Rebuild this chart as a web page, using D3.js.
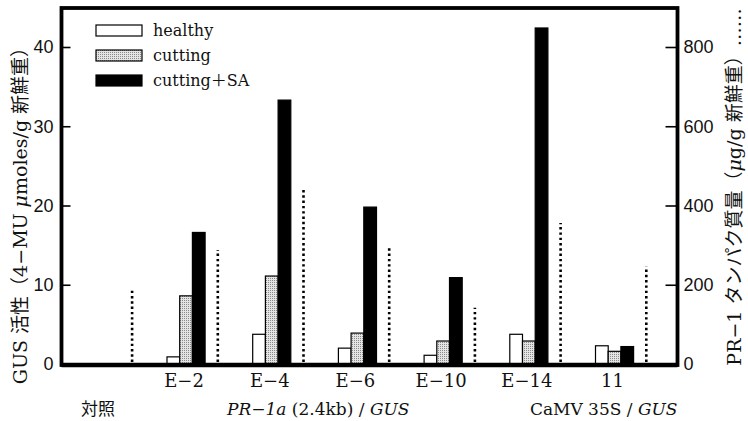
<!DOCTYPE html>
<html>
<head>
<meta charset="utf-8">
<script src="https://cdn.jsdelivr.net/npm/d3@7"></script>
<style>
  body { margin: 0; background: #fff; }
  svg { display: block; }
  .tick text { font-family: 'Liberation Sans Narrow', 'Liberation Sans', Arial, sans-serif; font-size: 18px; fill: #111; }
  .serif { font-family: 'DejaVu Serif', 'Noto Sans CJK JP', serif; fill: #111; }
</style>
</head>
<body>
<div id="chart"></div>
<script>
// data
const categories = ['対照', 'E−2', 'E−4', 'E−6', 'E−10', 'E−14', '11'];
const tickLabels = ['', 'E−2', 'E−4', 'E−6', 'E−10', 'E−14', '11'];
const healthy = [0, 0.9, 3.75, 2.0, 1.1, 3.75, 2.3];
const cutting = [0, 8.6, 11.1, 3.9, 2.9, 2.9, 1.6];
const cuttingSA = [0, 16.6, 33.3, 19.8, 10.9, 42.4, 2.2];
const pr1 = [188, 288, 444, 293, 142, 356, 247];   // right axis, µg/g
const leftTicks = [0, 10, 20, 30, 40];
const rightTicks = [0, 200, 400, 600, 800];
const seriesNames = ['healthy', 'cutting', 'cutting＋SA'];

const width = 748, height = 421;
const plotLeft = 61.5, plotRight = 677.5, plotTop = 8, plotBottom = 365;

const svg = d3.select('#chart').append('svg')
    .attr('width', width)
    .attr('height', height);

const defs = svg.append('defs');
const pat = defs.append('pattern')
    .attr('id', 'dots')
    .attr('width', 2).attr('height', 2)
    .attr('patternUnits', 'userSpaceOnUse');
pat.append('rect').attr('width', 2).attr('height', 2).attr('fill', '#e4e4e4');
pat.append('rect').attr('width', 1).attr('height', 1).attr('fill', '#8a8a8a');

const fills = ['#fff', 'url(#dots)', '#000'];

const x = d3.scaleBand()
    .domain(categories)
    .range([81.3, 81.3 + 85.7 * categories.length]);

const sub = d3.scaleBand()
    .domain(['healthy', 'cutting', 'sa', 'gap', 'pr1'])
    .range([0, 63.5]);

const y = d3.scaleLinear().domain([0, 40]).range([364, 47]);
const yR = d3.scaleLinear().domain([0, 800]).range([364, 47]);

// bars
const seriesData = [healthy, cutting, cuttingSA];
const subKeys = ['healthy', 'cutting', 'sa'];
seriesData.forEach((vals, si) => {
    svg.append('g')
        .selectAll('rect')
        .data(vals)
        .enter().append('rect')
        .attr('x', (d, i) => x(categories[i]) + sub(subKeys[si]))
        .attr('y', d => y(d))
        .attr('width', sub.bandwidth())
        .attr('height', d => y(0) - y(d))
        .attr('fill', fills[si])
        .attr('stroke', '#000')
        .attr('stroke-width', d => d > 0 ? 1.2 : 0);
});

// PR-1 protein as dotted lines
svg.append('g')
    .selectAll('line')
    .data(pr1)
    .enter().append('line')
    .attr('x1', (d, i) => x(categories[i]) + sub('pr1'))
    .attr('x2', (d, i) => x(categories[i]) + sub('pr1'))
    .attr('y1', yR(0) - 2)
    .attr('y2', d => yR(d))
    .attr('stroke', '#000')
    .attr('stroke-width', 2.6)
    .attr('stroke-dasharray', '2.4,2.9');

// axes
const axL = svg.append('g')
    .attr('transform', `translate(${plotLeft},0)`)
    .call(d3.axisLeft(y).tickValues(leftTicks).tickSize(-9).tickPadding(8));
const axR = svg.append('g')
    .attr('transform', `translate(${plotRight},0)`)
    .call(d3.axisRight(yR).tickValues(rightTicks).tickSize(-12).tickPadding(6));
[axL, axR].forEach(a => {
    a.select('.domain').remove();
    a.selectAll('.tick line').attr('stroke', '#000').attr('stroke-width', 1.6);
});

// frame
svg.append('rect')
    .attr('x', plotLeft).attr('y', plotTop)
    .attr('width', plotRight - plotLeft).attr('height', plotBottom - plotTop)
    .attr('fill', 'none')
    .attr('stroke', '#000')
    .attr('stroke-width', 3.8);
svg.append('line')
    .attr('x1', plotLeft).attr('x2', plotRight)
    .attr('y1', plotBottom).attr('y2', plotBottom)
    .attr('stroke', '#000').attr('stroke-width', 4.5);

// category labels
svg.append('g')
    .selectAll('text')
    .data(tickLabels)
    .enter().append('text')
    .attr('class', 'serif')
    .attr('x', (d, i) => x(categories[i]) + sub('cutting') + sub.bandwidth() / 2 - 2)
    .attr('y', 387)
    .attr('text-anchor', 'middle')
    .attr('font-size', 18)
    .text(d => d);

// group labels
svg.append('text')
    .attr('class', 'serif')
    .attr('x', x('対照') + sub('cutting') + 4)
    .attr('y', 415)
    .attr('text-anchor', 'middle')
    .attr('font-size', 17)
    .text('対照');

const g1 = svg.append('text')
    .attr('class', 'serif')
    .attr('x', 227)
    .attr('y', 415)
    .attr('font-size', 17);
g1.append('tspan').attr('font-style', 'italic').text('PR−1a');
g1.append('tspan').text(' (2.4kb) / ');
g1.append('tspan').attr('font-style', 'italic').text('GUS');

const g2 = svg.append('text')
    .attr('class', 'serif')
    .attr('x', plotRight)
    .attr('y', 415)
    .attr('text-anchor', 'end')
    .attr('font-size', 17);
g2.append('tspan').text('CaMV 35S / ');
g2.append('tspan').attr('font-style', 'italic').text('GUS');

// axis titles
const tL = svg.append('text')
    .attr('class', 'serif')
    .attr('transform', 'translate(27,211) rotate(-90)')
    .attr('text-anchor', 'middle')
    .attr('font-size', 19);
tL.append('tspan').text('GUS 活性（4−MU ');
tL.append('tspan').attr('font-style', 'italic').text('μ');
tL.append('tspan').text('moles/g 新鮮重）');

const tR = svg.append('text')
    .attr('class', 'serif')
    .attr('transform', 'translate(741,187) rotate(-90)')
    .attr('text-anchor', 'middle')
    .attr('font-size', 19);
tR.append('tspan').text('PR−1 タンパク質量（');
tR.append('tspan').attr('font-style', 'italic').text('μ');
tR.append('tspan').text('g/g 新鮮重）……');

// legend
const legend = svg.append('g').attr('transform', 'translate(96,25)');
seriesNames.forEach((name, i) => {
    const row = legend.append('g').attr('transform', `translate(0,${i * 25})`);
    row.append('rect')
        .attr('width', 46).attr('height', 11)
        .attr('fill', fills[i])
        .attr('stroke', '#000')
        .attr('stroke-width', 1.2);
    row.append('text')
        .attr('class', 'serif')
        .attr('x', 57)
        .attr('y', 11)
        .attr('font-size', 16)
        .text(name);
});
</script>
</body>
</html>
